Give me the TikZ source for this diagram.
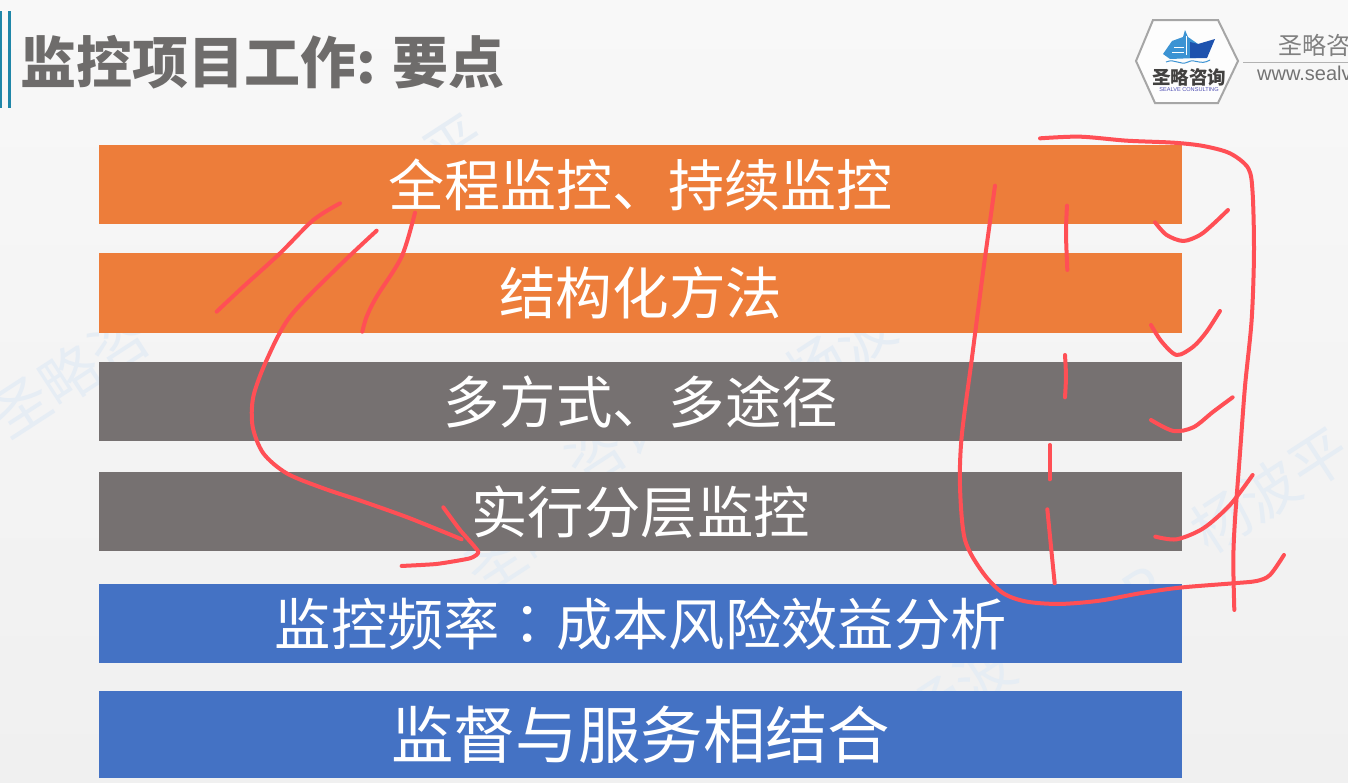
\documentclass[tikz,border=0pt]{standalone}
\usepackage{fontspec}
\setmainfont{Noto Sans CJK SC}
\newfontfamily\latinfont{Liberation Sans}
\newfontfamily\twfont{Noto Sans CJK TC}
\definecolor{pagetop}{HTML}{F8F8F8}
\definecolor{pagebot}{HTML}{F0F0F0}
\definecolor{barorange}{HTML}{ED7D3A}
\definecolor{bargray}{HTML}{767171}
\definecolor{barblue}{HTML}{4472C4}
\definecolor{titlegray}{HTML}{6E6C6B}
\definecolor{ink}{HTML}{FF4F55}
\definecolor{mark}{HTML}{E6EDF4}
\definecolor{teal}{HTML}{1F86A8}
\definecolor{shiplight}{HTML}{3C93D3}
\definecolor{shipdark}{HTML}{1E52AE}
\tikzset{
  bar/.style={anchor=north west,inner sep=0pt,minimum width=1083pt,text=white,font=\fontsize{56.4}{57}\selectfont},
  stroke/.style={draw=ink,line width=4pt,line cap=round,line join=round},
  wm/.style={text=mark,font=\fontsize{58}{58}\selectfont,rotate=33,inner sep=0pt},
}
\begin{document}
\begin{tikzpicture}[x=1pt,y=-1pt]
\useasboundingbox (0,0) rectangle (1348,782);
\clip (0,0) rectangle (1348,782);
\shade[top color=pagetop,bottom color=pagebot] (0,0) rectangle (1348,782);
% watermarks
\node[wm] (w1) at (70,375) {圣略咨};
\node[wm] (w2) at (430,160) {波平};
\node[wm] (w3) at (840,350) {杨波};
\node[wm] (w4) at (620,440) {咨询};
\node[wm] (w5) at (1270,490) {杨波平};
\node[wm] (w6) at (520,545) {圣略};
\node[wm] (w7) at (1130,600) {AP};
\node[wm] (w8) at (960,690) {杨波};
% accent rules
\fill[teal] (0,11) rectangle (1.5,108);
\fill[teal] (8,11) rectangle (10.5,108);
% title
\node[anchor=west,inner sep=0pt,text=titlegray,font=\fontsize{56}{56}\selectfont\bfseries] (title) at (20,62) {监控项目工作: 要点};
% bars
\node[bar,fill=barorange,minimum height=79pt] (b1) at (99,145) {\fontsize{56}{56}\selectfont\raisebox{-1.5pt}{全程监控、持续监控}};
\node[bar,fill=barorange,minimum height=80pt] (b2) at (99,253) {\fontsize{56.6}{57}\selectfont 结构化方法};
\node[bar,fill=bargray,minimum height=79pt] (b3) at (99,362) {多方式、多途径};
\node[bar,fill=bargray,minimum height=79pt] (b4) at (99,472) {实行分层监控};
\node[bar,fill=barblue,minimum height=79pt] (b5) at (99,584) {\fontsize{56.3}{57}\selectfont 监控频率{\twfont ：}成本风险效益分析};
\node[bar,fill=barblue,minimum height=87pt] (b6) at (99,691) {\fontsize{62.4}{63}\selectfont 监督与服务相结合};
% logo
\draw[draw=gray!70,line width=2pt,fill=white!70!pagetop] (1153,20) -- (1218,20) -- (1238,61) -- (1218,103) -- (1155,103) -- (1136,61) -- cycle;
\fill[shiplight] (1163,54) -- (1172,41) -- (1183,37) -- (1185,30) -- (1188,37) -- (1198,44) -- (1196,58) -- (1170,59) -- cycle;
\fill[shipdark] (1190,42) -- (1198,44) -- (1215,39) -- (1207,58) -- (1190,58) -- cycle;
\draw[white,line width=1pt] (1186,36) -- (1186,55) (1174,47) -- (1184,47) (1172,52) -- (1184,52);
\draw[shiplight,line width=1pt] (1166,62) .. controls (1175,58) and (1180,66) .. (1188,62) .. controls (1195,58) and (1200,66) .. (1210,60);
\node[inner sep=0pt,text=titlegray!60!black,font=\fontsize{18.5}{18.5}\selectfont\bfseries] (logotext) at (1189,77) {圣略咨询};
\node[inner sep=0pt,text=blue!40!gray,font=\latinfont\fontsize{5.6}{5.6}\selectfont] (logosub) at (1189,90) {SEALVE CONSULTING};
\draw[gray!60,line width=0.8pt] (1243,62) -- (1348,62);
\node[anchor=west,inner sep=0pt,text=gray,font=\fontsize{24}{24}\selectfont] (brand) at (1278,45) {圣略咨};
\node[anchor=west,inner sep=0pt,text=gray!90!black,font=\latinfont\fontsize{20}{20}\selectfont] (site) at (1257,73) {www.sealv};
% handwriting, right group (zoom coordinates)
\begin{scope}[shift={(940,120)},x=0.3333pt,y=-0.3333pt]
\draw[stroke] plot[smooth,tension=0.5] coordinates {(300,55) (420,50) (560,62) (700,68) (790,78) (870,100) (925,145) (938,220) (942,400) (935,600) (915,800) (900,1000) (885,1200) (880,1320) (883,1470)};
\draw[stroke] plot[smooth,tension=0.5] coordinates {(165,197) (130,450) (95,720) (65,950) (60,1100) (75,1260) (130,1360) (190,1420) (260,1445) (360,1452) (480,1442) (600,1420) (720,1403) (880,1390) (950,1383) (990,1365) (1032,1305)};
\draw[stroke] plot[smooth,tension=0.5] coordinates {(381,257) (378,340) (382,450)};
\draw[stroke] plot[smooth,tension=0.5] coordinates {(375,705) (378,770) (375,832)};
\draw[stroke] (329,975) -- (329,1078);
\draw[stroke] plot[smooth,tension=0.5] coordinates {(322,1168) (333,1280) (344,1390)};
\draw[stroke] plot[smooth,tension=0.5] coordinates {(645,307) (680,345) (730,363) (780,345) (820,312) (864,270)};
\draw[stroke] plot[smooth,tension=0.5] coordinates {(633,615) (665,665) (710,705) (760,680) (800,635) (840,573)};
\draw[stroke] plot[smooth,tension=0.5] coordinates {(633,900) (700,933) (760,922) (820,875) (878,832)};
\draw[stroke] plot[smooth,tension=0.5] coordinates {(646,1250) (710,1258) (790,1225) (870,1155) (938,1065)};
\end{scope}
% handwriting, left group
\begin{scope}[shift={(190,190)},x=0.3333pt,y=-0.3333pt]
\draw[stroke] plot[smooth,tension=0.5] coordinates {(450,40) (370,90) (270,190) (160,290) (80,365)};
\draw[stroke] plot[smooth,tension=0.5] coordinates {(560,122) (440,235) (300,380) (230,510) (190,620) (188,710) (220,790) (290,850) (400,895) (520,935) (660,985) (815,1048)};
\draw[stroke] plot[smooth,tension=0.5] coordinates {(675,68) (635,200) (560,320) (530,380) (517,425)};
\draw[stroke] plot[smooth,tension=0.3] coordinates {(760,952) (810,1020) (865,1085) (840,1105) (740,1122) (635,1128)};
\end{scope}
\end{tikzpicture}
\end{document}
